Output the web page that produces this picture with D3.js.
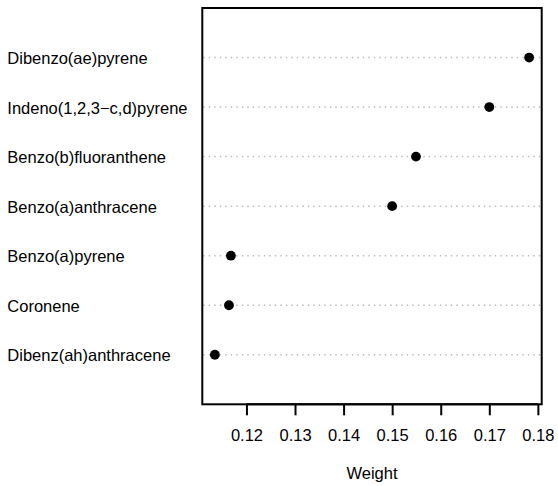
<!DOCTYPE html>
<html>
<head>
<meta charset="utf-8">
<script src="https://cdn.jsdelivr.net/npm/d3@7"></script>
<style>
  html, body { margin: 0; padding: 0; background: #fff; }
  svg { display: block; }
  text { font-family: "Liberation Sans", Arial, Helvetica, sans-serif; fill: #000; }
</style>
</head>
<body>
<svg id="chart" width="558" height="486"></svg>
<script>
// Categories top to bottom
const categories = [
  "Dibenzo(ae)pyrene",
  "Indeno(1,2,3\u2212c,d)pyrene",
  "Benzo(b)fluoranthene",
  "Benzo(a)anthracene",
  "Benzo(a)pyrene",
  "Coronene",
  "Dibenz(ah)anthracene"
];
const weights = [0.1782, 0.1700, 0.1549, 0.1500, 0.1168, 0.1164, 0.1135];
const xTicks = [0.12, 0.13, 0.14, 0.15, 0.16, 0.17, 0.18];
const xTickLabels = ["0.12", "0.13", "0.14", "0.15", "0.16", "0.17", "0.18"];
const xTitle = "Weight";

const svg = d3.select("#chart");
const box = { left: 202.3, right: 541.7, top: 8, bottom: 404.3 };
const fs = 16.5;

const lo = d3.min(weights), hi = d3.max(weights), pad = (hi - lo) * 0.04;
const x = d3.scaleLinear().domain([lo - pad, hi + pad]).range([box.left, box.right]);
const n = categories.length;
// row position: bottom category at 1, top at n
const y = d3.scaleLinear().domain([0, n + 1]).range([box.bottom, box.top]);
const rowOf = i => n - i;

// dotted guide lines
svg.append("g").selectAll("line")
  .data(categories)
  .join("line")
  .attr("x1", box.left + 1)
  .attr("x2", box.right - 1)
  .attr("y1", (d, i) => y(rowOf(i)))
  .attr("y2", (d, i) => y(rowOf(i)))
  .attr("stroke", "#b8b8b8")
  .attr("stroke-width", 1.5)
  .attr("stroke-dasharray", "1.4,4.1");

// points
svg.append("g").selectAll("circle")
  .data(weights)
  .join("circle")
  .attr("cx", d => x(d))
  .attr("cy", (d, i) => y(rowOf(i)))
  .attr("r", 4.9)
  .attr("fill", "#000");

// category labels
svg.append("g").selectAll("text")
  .data(categories)
  .join("text")
  .attr("x", 7.3)
  .attr("y", (d, i) => y(rowOf(i)) + 6.6)
  .attr("font-size", fs)
  .text(d => d);

// box
svg.append("rect")
  .attr("x", box.left)
  .attr("y", box.top)
  .attr("width", box.right - box.left)
  .attr("height", box.bottom - box.top)
  .attr("fill", "none")
  .attr("stroke", "#000")
  .attr("stroke-width", 2);

// x axis
const axis = d3.axisBottom(x)
  .tickValues(xTicks)
  .tickFormat((d, i) => xTickLabels[i])
  .tickSize(11)
  .tickPadding(14);
const gx = svg.append("g")
  .attr("transform", `translate(0,${box.bottom})`)
  .call(axis);
gx.select(".domain").attr("stroke", "#000").attr("stroke-width", 2)
  .attr("d", `M${x(xTicks[0])},0H${x(xTicks[xTicks.length - 1])}`);
gx.selectAll(".tick line").attr("stroke", "#000").attr("stroke-width", 2);
gx.selectAll(".tick text")
  .attr("font-size", fs)
  .attr("font-family", "'Liberation Sans', Arial, sans-serif")
  .attr("fill", "#000")
  .attr("dy", null)
  .attr("y", 36.8);

// x title
svg.append("text")
  .attr("x", (box.left + box.right) / 2)
  .attr("y", 479)
  .attr("text-anchor", "middle")
  .attr("font-size", fs)
  .text(xTitle);
</script>
</body>
</html>
